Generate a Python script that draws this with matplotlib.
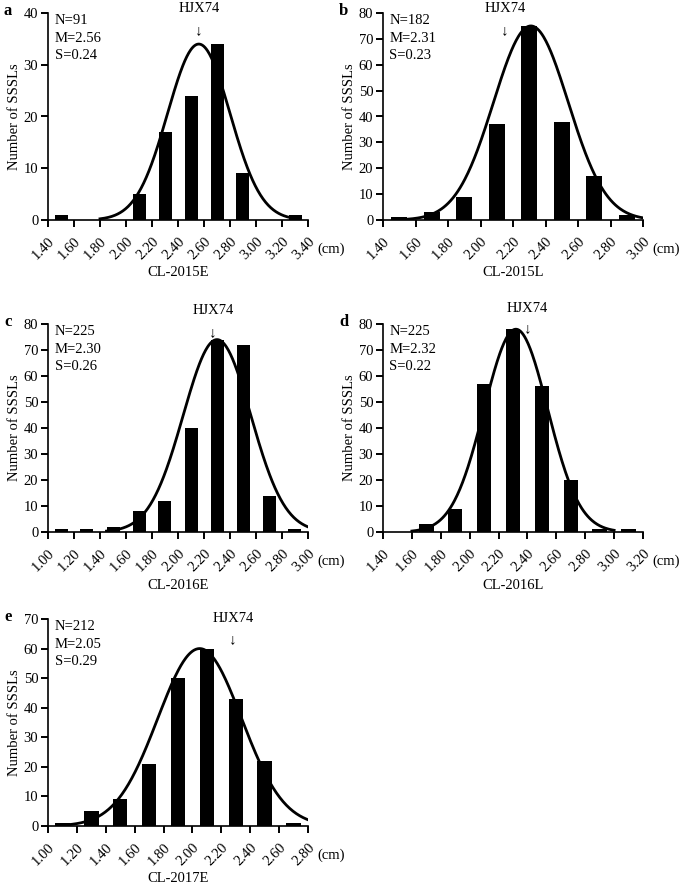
import numpy as np
import matplotlib
matplotlib.use('Agg')
import matplotlib.pyplot as plt
from matplotlib import transforms

plt.rcParams['font.family'] = ['Liberation Serif', 'DejaVu Serif']
plt.rcParams['font.size'] = 10.5
plt.rcParams['axes.linewidth'] = 1.2

####data########

# panel a  CL-2015E
a_edges = [1.40, 1.60, 1.80, 2.00, 2.20, 2.40, 2.60, 2.80, 3.00, 3.20, 3.40]
a_counts = [1, 0, 0, 5, 17, 24, 34, 9, 0, 1]

# panel b  CL-2015L
b_edges = [1.40, 1.60, 1.80, 2.00, 2.20, 2.40, 2.60, 2.80, 3.00]
b_counts = [1, 3, 9, 37, 75, 38, 17, 2]

# panel c  CL-2016E
c_edges = [1.00, 1.20, 1.40, 1.60, 1.80, 2.00, 2.20, 2.40, 2.60, 2.80, 3.00]
c_counts = [1, 1, 2, 8, 12, 40, 74, 72, 14, 1]

# panel d  CL-2016L
d_edges = [1.40, 1.60, 1.80, 2.00, 2.20, 2.40, 2.60, 2.80, 3.00, 3.20]
d_counts = [0, 3, 9, 57, 78, 56, 20, 1, 1]

# panel e  CL-2017E
e_edges = [1.00, 1.20, 1.40, 1.60, 1.80, 2.00, 2.20, 2.40, 2.60, 2.80]
e_counts = [1, 5, 9, 21, 50, 60, 43, 22, 1]

names = ['CL-2015E', 'CL-2015L', 'CL-2016E', 'CL-2016L', 'CL-2017E']
letters = ['a', 'b', 'c', 'd', 'e']
n_obs = [91, 182, 225, 225, 212]
means = [2.56, 2.31, 2.30, 2.32, 2.05]
sds = [0.24, 0.23, 0.26, 0.22, 0.29]
peaks = [34, 75, 74, 78, 60]            # height of fitted curve
curve_lo = [1.80, 1.55, 1.45, 1.60, 1.08]
curve_hi = [3.30, 3.00, 3.00, 3.00, 2.80]
hjx74 = [2.56, 2.15, 2.27, 2.40, 2.28]  # arrow position
ymax = [40, 80, 80, 80, 70]

all_edges = [a_edges, b_edges, c_edges, d_edges, e_edges]
all_counts = [a_counts, b_counts, c_counts, d_counts, e_counts]

####layout (pixels of a 685x886 figure)####
W, H = 685., 886.
boxes = [(48, 13, 308, 220), (383, 13, 643, 220),
         (48, 324, 308, 532), (383, 324, 643, 532),
         (48, 619, 308, 826)]
# y (axes fraction) of HJX74 text and arrow
txt_y = [1.02, 1.02, 1.065, 1.075, 1.0]
arr_y = [0.915, 0.915, 0.96, 0.98, 0.90]

fig = plt.figure(figsize=(6.85, 8.86), dpi=100)

for i in range(5):
    x0, y0, x1, y1 = boxes[i]
    ax = fig.add_axes([x0 / W, 1 - y1 / H, (x1 - x0) / W, (y1 - y0) / H])
    edges = np.array(all_edges[i])
    centers = (edges[:-1] + edges[1:]) / 2
    ax.bar(centers, all_counts[i], width=0.1, color='black', zorder=2)

    #fitted normal curve from M and S
    xx = np.linspace(curve_lo[i], curve_hi[i], 300)
    yy = peaks[i] * np.exp(-0.5 * ((xx - means[i]) / sds[i]) ** 2)
    ax.plot(xx, yy, color='black', lw=2, zorder=3)

    ax.set_xlim(edges[0], edges[-1])
    ax.set_ylim(0, ymax[i])
    ax.set_xticks(edges)
    ax.set_xticklabels(['%.2f' % v for v in edges], rotation=45, ha='right',
                       rotation_mode='anchor')
    ax.set_yticks(np.arange(0, ymax[i] + 1, 10))
    ax.tick_params(direction='out', length=5, width=1.4, pad=2)
    ax.tick_params(axis='x', pad=6)
    for s in ['top', 'right']:
        ax.spines[s].set_visible(False)
    ax.margins(0)

    ax.set_ylabel('Number of SSSLs', labelpad=2)
    ax.text(0.5, -0.255, names[i], transform=ax.transAxes, ha='center', va='center')
    ax.text(1.09, -0.14, '(cm)', transform=ax.transAxes, ha='center', va='center')

    ax.text(0.025, 0.995, 'N=%d\nM=%.2f\nS=%.2f' % (n_obs[i], means[i], sds[i]),
            transform=ax.transAxes, ha='left', va='top', linespacing=1.45)

    trans = transforms.blended_transform_factory(ax.transData, ax.transAxes)
    ax.text(hjx74[i], txt_y[i], 'HJX74', transform=trans, ha='center', va='center',
            clip_on=False)
    ax.text(hjx74[i], arr_y[i], '\u2193', transform=trans, ha='center', va='center',
            clip_on=False, fontsize=11)

    fig.text((x0 - 44) / W, 1 - (y0 - 2) / H, letters[i], fontsize=12,
             fontweight='bold', ha='left', va='center')

fig.savefig('out.png', dpi=100)
